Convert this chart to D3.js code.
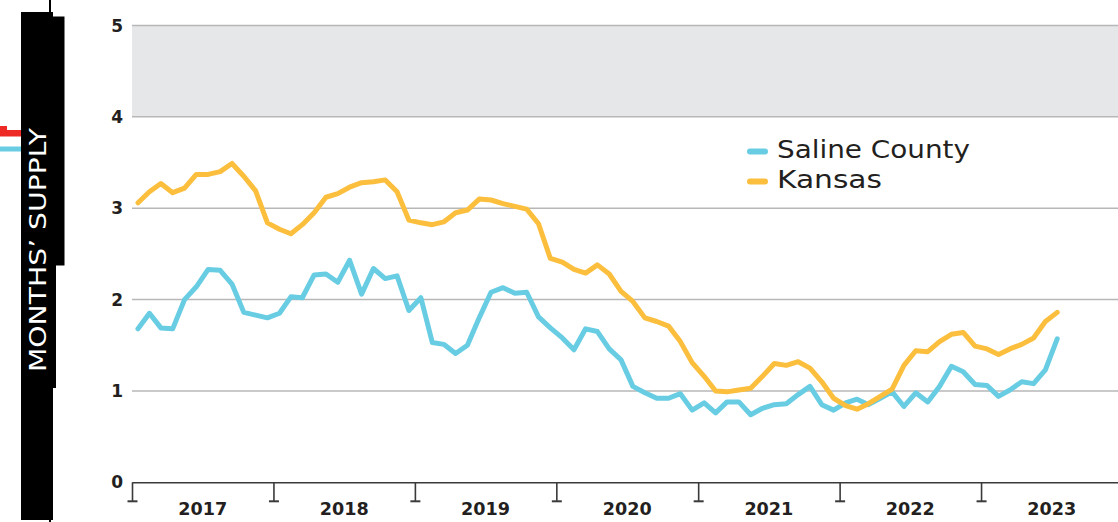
<!DOCTYPE html>
<html>
<head>
<meta charset="utf-8">
<script src="https://cdn.jsdelivr.net/npm/d3@7"></script>
<style>
  body { margin: 0; background: #fff; }
  svg { display: block; }
  text { font-family: "DejaVu Sans", Inter, sans-serif; fill: #231f20; }
</style>
</head>
<body>
<div id="chart"></div>
<script>
// Data: months' supply, monthly, Jan 2017 .. Jul 2023
var startMonth = new Date(2017, 0, 1);
var months = d3.timeMonth.range(startMonth, new Date(2023, 7, 1));

var salineCounty = [
    1.68, 1.85, 1.69, 1.68, 2.00, 2.14, 2.33, 2.32, 2.17, 1.86, 1.83, 1.80,
    1.85, 2.03, 2.02, 2.27, 2.28, 2.19, 2.43, 2.06, 2.34, 2.23, 2.26, 1.88,
    2.02, 1.53, 1.51, 1.41, 1.50, 1.80, 2.08, 2.13, 2.07, 2.08, 1.81, 1.69,
    1.58, 1.45, 1.68, 1.65, 1.46, 1.34, 1.05, 0.98, 0.92, 0.92, 0.97, 0.79,
    0.87, 0.76, 0.88, 0.88, 0.74, 0.81, 0.85, 0.86, 0.96, 1.05, 0.85, 0.79,
    0.87, 0.91, 0.85, 0.92, 0.99, 0.83, 0.98, 0.88, 1.05, 1.27, 1.21, 1.07,
    1.06, 0.94, 1.01, 1.10, 1.08, 1.23, 1.57
];

var kansas = [
    3.06, 3.18, 3.27, 3.17, 3.22, 3.37, 3.37, 3.40, 3.49, 3.35, 3.19, 2.84,
    2.77, 2.72, 2.82, 2.95, 3.12, 3.16, 3.23, 3.28, 3.29, 3.31, 3.18, 2.87,
    2.84, 2.82, 2.85, 2.95, 2.98, 3.10, 3.09, 3.05, 3.02, 2.99, 2.83, 2.45,
    2.41, 2.33, 2.29, 2.38, 2.28, 2.09, 1.98, 1.80, 1.76, 1.71, 1.54, 1.31,
    1.16, 1.00, 0.99, 1.01, 1.03, 1.16, 1.30, 1.28, 1.32, 1.25, 1.10, 0.92,
    0.84, 0.80, 0.86, 0.94, 1.02, 1.28, 1.44, 1.43, 1.54, 1.62, 1.64, 1.49,
    1.46, 1.40, 1.46, 1.51, 1.58, 1.76, 1.86
];

var yearLabels = ["2017", "2018", "2019", "2020", "2021", "2022", "2023"];
var yTicks = [0, 1, 2, 3, 4, 5];
var seriesNames = ["Saline County", "Kansas"];
var seriesColors = ["#68cde3", "#fbbe3d"];

///////////  SVG  ///////////
var svgWidth = 1118;
var svgHeight = 522;

var svg = d3.select("#chart")
    .append("svg")
    .attr("width", svgWidth)
    .attr("height", svgHeight);

// Scales: one year is about 141.5px, first year starts at x=132
var x = d3.scaleTime()
    .domain([startMonth, new Date(2024, 0, 1)])
    .range([132, 132 + 7 * 141.5]);

var y = d3.scaleLinear()
    .domain([0, 5])
    .range([482.3, 25.5]);

// mid-month position
function midMonth(m) {
    return new Date((+m + +d3.timeMonth.offset(m, 1)) / 2);
}

// Shaded band between 4 and 5
svg.append("rect")
    .attr("x", 132)
    .attr("y", y(5))
    .attr("width", svgWidth - 132)
    .attr("height", y(4) - y(5))
    .attr("fill", "#e6e7e9");

// Gridlines
svg.append("g")
    .selectAll("line")
    .data(yTicks.filter(d => d > 0))
    .enter().append("line")
    .attr("x1", 132)
    .attr("x2", svgWidth)
    .attr("y1", d => y(d))
    .attr("y2", d => y(d))
    .attr("stroke", "#b7b7b7")
    .attr("stroke-width", 1.5);

// Y labels
svg.append("g")
    .selectAll("text")
    .data(yTicks)
    .enter().append("text")
    .attr("x", 123)
    .attr("y", d => y(d))
    .attr("dy", "0.36em")
    .attr("text-anchor", "end")
    .attr("font-size", 17)
    .attr("font-weight", "bold")
    .text(d => d);

// X axis
var yearStarts = d3.timeYear.range(startMonth, new Date(2024, 0, 1));
var xAxis = svg.append("g")
    .attr("transform", `translate(0, ${y(0)})`)
    .call(d3.axisBottom(x).tickValues(yearStarts).tickSize(19).tickSizeOuter(0).tickFormat(""));

xAxis.select(".domain").attr("stroke", "#3a3a3a").attr("stroke-width", 1.6);
xAxis.selectAll(".tick line").attr("stroke", "#3a3a3a").attr("stroke-width", 1.6);
xAxis.selectAll(".tick").append("line")
    .attr("x1", -5).attr("x2", 5)
    .attr("y1", 19).attr("y2", 19)
    .attr("stroke", "#3a3a3a")
    .attr("stroke-width", 2);

// Year labels centred in each year
svg.append("g")
    .selectAll("text")
    .data(yearLabels)
    .enter().append("text")
    .attr("x", (d, i) => (x(yearStarts[i]) + x(d3.timeYear.offset(yearStarts[i], 1))) / 2)
    .attr("y", 515)
    .attr("text-anchor", "middle")
    .attr("font-size", 18)
    .attr("font-weight", "bold")
    .attr("textLength", 49)
    .attr("lengthAdjust", "spacingAndGlyphs")
    .text(d => d);

// Lines
var line = d3.line()
    .x((d, i) => x(midMonth(months[i])))
    .y(d => y(d));

[salineCounty, kansas].forEach(function(values, k) {
    svg.append("path")
        .datum(values)
        .attr("d", line)
        .attr("fill", "none")
        .attr("stroke", seriesColors[k])
        .attr("stroke-width", 5)
        .attr("stroke-linejoin", "round")
        .attr("stroke-linecap", "round");
});

// Legend (reference face is wider than DejaVu, so stretch to measured widths)
var legendWidths = [193, 105];
var legend = svg.append("g").attr("transform", "translate(750, 151.5)");
seriesNames.forEach(function(name, k) {
    legend.append("line")
        .attr("x1", 0).attr("x2", 15)
        .attr("y1", k * 30).attr("y2", k * 30)
        .attr("stroke", seriesColors[k])
        .attr("stroke-width", 6)
        .attr("stroke-linecap", "round");
    legend.append("text")
        .attr("x", 27)
        .attr("y", k * 30 + 6)
        .attr("font-size", 24)
        .attr("textLength", legendWidths[k])
        .attr("lengthAdjust", "spacingAndGlyphs")
        .text(name);
});

///////////  Side bar  ///////////
var side = svg.append("g");
side.append("rect").attr("x", 49).attr("y", 0).attr("width", 2).attr("height", 522).attr("fill", "#000");
side.append("rect").attr("x", 21).attr("y", 12).attr("width", 32).attr("height", 508).attr("fill", "#000");
side.append("rect").attr("x", 53).attr("y", 16.5).attr("width", 11.5).attr("height", 249).attr("fill", "#000");
side.append("rect").attr("x", 53).attr("y", 265).attr("width", 3).attr("height", 123).attr("fill", "#000");
// red / blue tabs
side.append("rect").attr("x", 0).attr("y", 130).attr("width", 21).attr("height", 6.5).attr("fill", "#ee2a24");
side.append("rect").attr("x", 0).attr("y", 126).attr("width", 7).attr("height", 5).attr("fill", "#ee2a24");
side.append("rect").attr("x", 0).attr("y", 146.5).attr("width", 21).attr("height", 5).attr("fill", "#68cde3");

side.append("text")
    .attr("transform", "translate(45.5, 250) rotate(-90)")
    .attr("text-anchor", "middle")
    .attr("font-size", 22.5)
    .attr("textLength", 244)
    .attr("lengthAdjust", "spacingAndGlyphs")
    .style("fill", "#fff")
    .text("MONTHS\u2019 SUPPLY");
</script>
</body>
</html>
